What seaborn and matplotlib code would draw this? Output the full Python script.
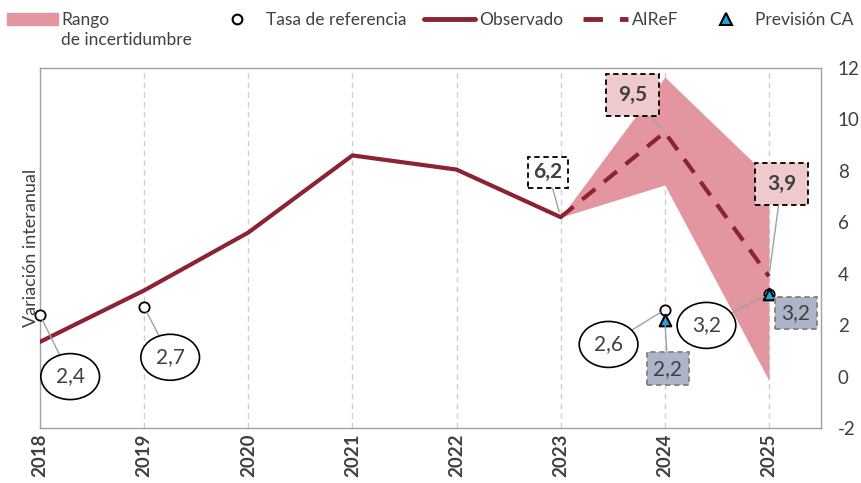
import matplotlib
matplotlib.use("Agg")
import matplotlib.pyplot as plt
import seaborn as sns
import pandas as pd
from matplotlib.patches import Patch
from matplotlib.lines import Line2D

years = [2018, 2019, 2020, 2021, 2022, 2023, 2024, 2025]
observed = [1.35, 3.35, 5.6, 8.6, 8.05, 6.2]
airef_years = [2023, 2024, 2025]
airef = [6.2, 9.5, 3.9]
band_low = [6.2, 7.45, -0.15]
band_high = [6.2, 11.65, 7.75]
ref_years = [2018, 2019, 2024, 2025]
ref_rate = [2.4, 2.7, 2.6, 3.2]
ca_years = [2024, 2025]
ca_forecast = [2.2, 3.2]

dark_red = "#8B2332"
band_col = "#E3969F"
tri_col = "#1FA7DA"
text_col = "#404040"

sns.set_style("white")
plt.rcParams["font.family"] = ["Lato", "DejaVu Sans"]
plt.rcParams["axes.unicode_minus"] = False

fig = plt.figure(figsize=(8.61, 4.83), dpi=100)
ax = fig.add_axes([40 / 861, 55 / 483, 781 / 861, 360 / 483])

ax.fill_between(airef_years, band_low, band_high, color=band_col, lw=0, zorder=1)

obs_df = pd.DataFrame({"year": years[:len(observed)], "v": observed})
sns.lineplot(data=obs_df, x="year", y="v", ax=ax, color=dark_red, lw=3, zorder=3)
air_df = pd.DataFrame({"year": airef_years, "v": airef})
sns.lineplot(data=air_df, x="year", y="v", ax=ax, color=dark_red, lw=3,
             linestyle=(0, (4, 2.7)), zorder=3)

ax.scatter(ref_years, ref_rate, s=55, facecolor="white", edgecolor="black", lw=1.3, zorder=5, clip_on=False)
ax.scatter(ca_years, ca_forecast, s=70, marker="^", facecolor=tri_col, edgecolor="black", lw=1.5, zorder=6)

ax.set_xlim(2018, 2025.5)
ax.set_ylim(-2, 12)
ax.set_xticks(years)
ax.set_xticklabels([str(y) for y in years], rotation=90, fontweight="bold", fontsize=13.5, color=text_col)
ax.yaxis.tick_right()
ax.set_yticks(range(-2, 13, 2))
ax.tick_params(axis="y", labelsize=13.5, labelcolor=text_col, length=0, pad=12)
ax.tick_params(axis="x", length=0, pad=4)
ax.set_xlabel("")
ax.set_ylabel("Variación interanual", fontsize=13, color=text_col, labelpad=1)
ax.yaxis.set_label_position("left")
for y in years[1:]:
    ax.axvline(y, color="#D0D0D0", lw=1, ls=(0, (4, 3)), zorder=0)
for s in ax.spines.values():
    s.set_color("#A0A0A0")
    s.set_linewidth(1)

line_kw = dict(arrowstyle="-", color="#A0A0A0", lw=1, shrinkA=0, shrinkB=4)

def ell(txt, xy, xyt):
    ax.annotate(txt, xy=xy, xytext=xyt, ha="center", va="center", fontsize=15, color=text_col,
                bbox=dict(boxstyle="ellipse,pad=0.3", fc="white", ec="black", lw=1.2),
                arrowprops=line_kw, zorder=7)

def box(txt, xy, xyt, fc, ec, bold, pad):
    ax.annotate(txt, xy=xy, xytext=xyt, ha="center", va="center", fontsize=15, color=text_col,
                fontweight="bold" if bold else "normal",
                bbox=dict(boxstyle="square,pad=%s" % pad, fc=fc, ec=ec, lw=1.3, ls=(0, (3, 2))),
                arrowprops=line_kw, zorder=7)

ell("2,4", (2018, 2.4), (2018.29, 0.0))
ell("2,7", (2019, 2.7), (2019.25, 0.75))
ell("2,6", (2024, 2.6), (2023.46, 1.25))
ell("3,2", (2025, 3.2), (2024.40, 1.99))
box("6,2", (2023, 6.2), (2022.88, 7.94), "white", "black", True, 0.25)
box("9,5", (2024, 9.5), (2023.69, 10.95), "#EECACD", "black", True, 0.55)
box("3,9", (2025, 3.9), (2025.12, 7.49), "#EECACD", "black", True, 0.55)
box("2,2", (2024, 2.2), (2024.03, 0.31), "#ACB5C7", "#808080", False, 0.3)
box("3,2", (2025, 3.2), (2025.26, 2.47), "#ACB5C7", "#808080", False, 0.3)

# legend, one entry at a time so each sits where it does in the original
entries = [
    (Patch(color=band_col), "Rango", 7, 2.95),
    (Line2D([], [], marker="o", ls="none", mfc="white", mec="black", mew=1.5, ms=7), "Tasa de referencia", 211, 2.95),
    (Line2D([], [], color=dark_red, lw=3.5), "Observado", 424, 2.95),
    (Line2D([], [], color=dark_red, lw=3.5, ls=(0, (4, 3.5))), "AIReF", 583, 2.6),
    (Line2D([], [], marker="^", ls="none", mfc=tri_col, mec="black", mew=1.5, ms=8), "Previsión CA", 700, 2.95),
]
for h, lab, x0, hl in entries:
    leg = fig.legend([h], [lab], loc="center left", bbox_to_anchor=(x0 / 861, 1 - 20 / 483),
                     frameon=False, fontsize=12.5, labelcolor=text_col, borderpad=0,
                     borderaxespad=0, handlelength=hl, handletextpad=0.2)
fig.text(61 / 861, 1 - 40 / 483, "de incertidumbre", fontsize=12.5, color=text_col, va="center", ha="left")

fig.savefig("out.png", dpi=100)
